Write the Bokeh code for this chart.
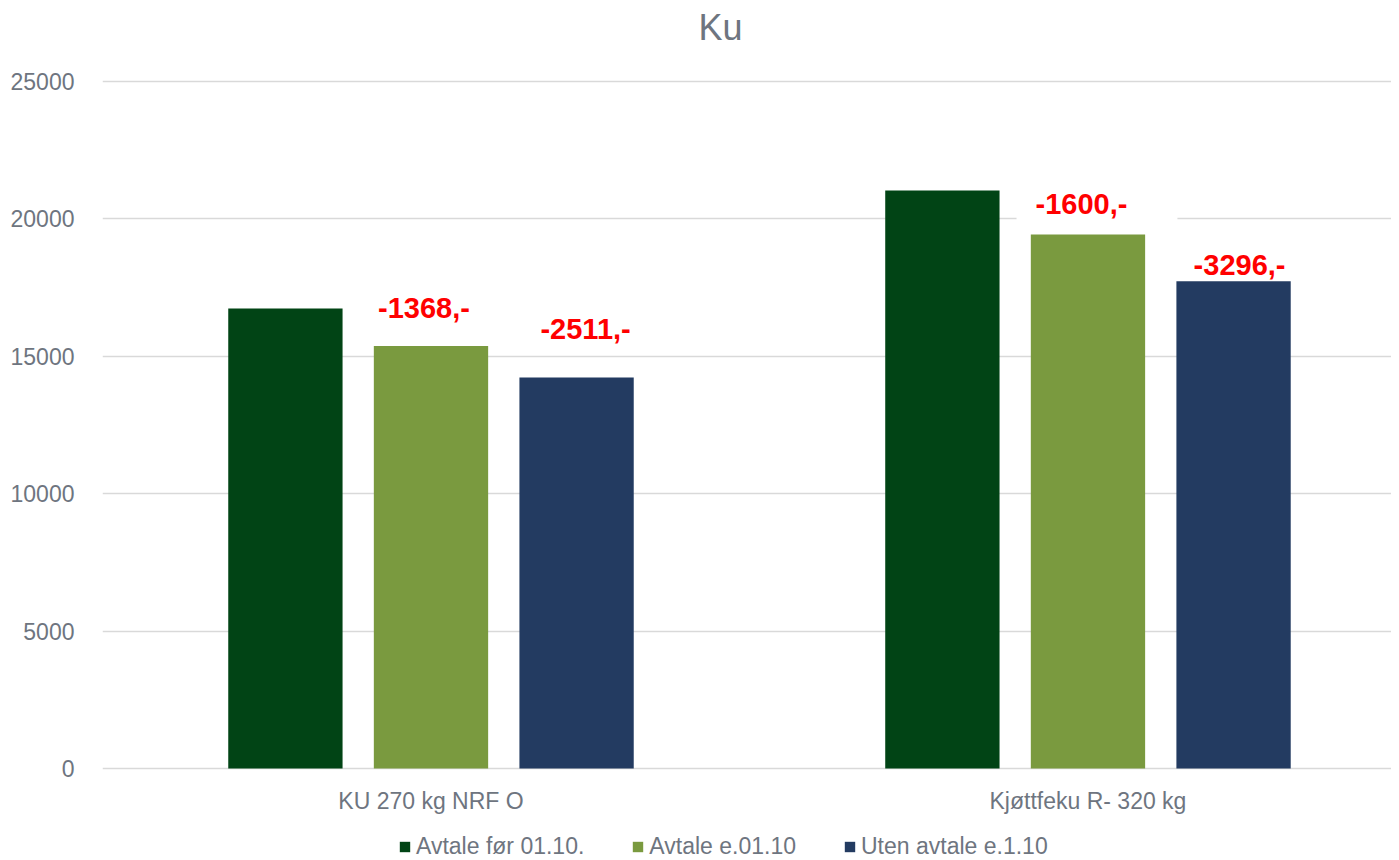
from bokeh.plotting import figure
from bokeh.models import (ColumnDataSource, Range1d, FixedTicker, Label, LabelSet,
                          Legend, LegendItem)
from bokeh.core.properties import value
from bokeh.embed import file_html
from bokeh.resources import INLINE

# ---- data ----
categories = ["KU 270 kg NRF O", "Kjøttfeku R- 320 kg"]
series_names = ["Avtale før 01.10.", "Avtale e.01.10", "Uten avtale e.1.10"]
avtale_for = [16740, 21030]
avtale_etter = [15372, 19430]
uten_avtale = [14229, 17734]
diff_labels_etter = ["-1368,-", "-1600,-"]
diff_labels_uten = ["-2511,-", "-3296,-"]
y_ticks = [0, 5000, 10000, 15000, 20000, 25000]
title_text = "Ku"

# ---- style / layout ----
colors = ["#014415", "#7A9A3F", "#233B61"]
text_gray = "#6E7580"
grid_gray = "#D9D9D9"
FONT = "Liberation Sans"
offsets = [-0.2216, 0.0, 0.2216]
bar_w = 0.174
FRAME_H = 860
TOP_PX = 81          # pixel row of the top tick
ZERO_PX = 768        # pixel row of zero
px_per_unit = (ZERO_PX - TOP_PX) / y_ticks[-1]
y_start = -(FRAME_H - ZERO_PX) / px_per_unit
y_end = y_ticks[-1] + TOP_PX / px_per_unit

p = figure(frame_width=1289, frame_height=FRAME_H, output_backend="svg",
           toolbar_location=None, title=None, x_axis_location=None,
           x_range=Range1d(-0.5, 1.462), y_range=Range1d(y_start, y_end),
           min_border_left=102, min_border_right=0, min_border_top=0,
           min_border_bottom=0)
p.outline_line_color = None
p.background_fill_color = "white"
p.border_fill_color = "white"

xs_base = list(range(len(categories)))
series = [avtale_for, avtale_etter, uten_avtale]
renderers = []
srcs = []
for i, vals in enumerate(series):
    src = ColumnDataSource(dict(x=[b + offsets[i] for b in xs_base], top=vals,
                                cat=categories))
    srcs.append(src)
    r = p.vbar(x="x", top="top", width=bar_w, source=src, fill_color=colors[i],
               line_color=None)
    renderers.append(r)

# grid / axes
p.xgrid.grid_line_color = None
p.ygrid.grid_line_color = grid_gray
p.ygrid.grid_line_width = 1.5
p.yaxis.ticker = FixedTicker(ticks=y_ticks)
p.yaxis.axis_line_color = None
p.yaxis.major_tick_line_color = None
p.yaxis.minor_tick_line_color = None
p.yaxis.major_label_text_font = FONT
p.yaxis.major_label_text_font_size = "23px"
p.yaxis.major_label_text_color = text_gray
p.yaxis.major_label_standoff = 22

# category labels under the bars
cat_src = ColumnDataSource(dict(x=xs_base, y=[0] * len(categories), t=categories))
p.add_layout(LabelSet(x="x", y="y", text="t", source=cat_src, y_offset=-32,
                      text_align="center", text_baseline="middle",
                      text_font=value(FONT), text_font_size=value("23px"),
                      text_color=text_gray))

# title
p.add_layout(Label(x=618, y=FRAME_H - 27, x_units="screen", y_units="screen",
                   text=title_text, text_align="center", text_baseline="middle",
                   text_font=FONT, text_font_size="36px", text_color=text_gray))

# difference labels (drawn under the bars, above the grid)
label_specs = [
    (1, diff_labels_etter, [(8.5, 35), (9, 28)]),
    (2, diff_labels_uten, [(24.5, 45), (21.5, 13)]),
]
for s_idx, texts, offs in label_specs:
    for j, t in enumerate(texts):
        lab = Label(x=srcs[s_idx].data["x"][j], y=series[s_idx][j], text=t,
                    x_offset=offs[j][0], y_offset=offs[j][1],
                    text_align="center", text_baseline="middle",
                    text_font=FONT, text_font_size="29px", text_font_style="bold",
                    text_color="#FF0000", background_fill_color="white",
                    padding=dict(left=19, right=50, top=6, bottom=12),
                    level="underlay")
        p.add_layout(lab)

legend = Legend(items=[LegendItem(label=series_names[i], renderers=[renderers[i]])
                       for i in range(3)],
                orientation="horizontal", location=(296, 0),
                glyph_width=13, glyph_height=13, label_standoff=5, spacing=47,
                label_text_font=FONT, label_text_font_size="23px",
                label_text_color=text_gray, border_line_color=None,
                background_fill_alpha=0, margin=0, padding=0)
p.add_layout(legend)

open("out.html", "w").write(file_html(p, INLINE))
